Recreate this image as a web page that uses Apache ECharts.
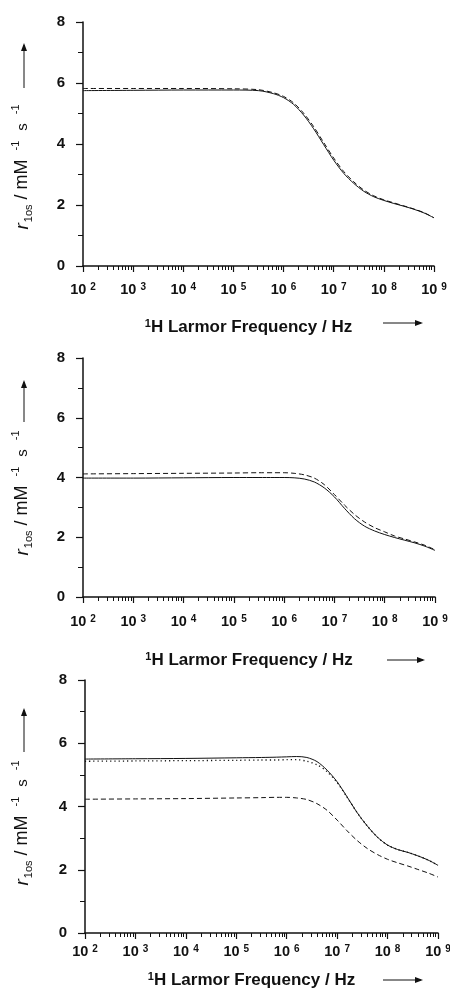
<!DOCTYPE html>
<html lang="en">
<head>
<meta charset="UTF-8">
<title>r1os vs 1H Larmor frequency</title>
<style>
  html, body { margin: 0; padding: 0; background: #fff; }
  #main { width: 450px; height: 990px; }
</style>
</head>
<body>
<div id="main"></div>
<script src="https://cdn.jsdelivr.net/npm/echarts@6/dist/echarts.min.js"></script>
<script>
// 1H Larmor frequency, Hz (same sampling for every curve)
var freq = [1e2, 1e3, 1e4, 1e5, 3.16e5, 6.31e5, 1e6, 1.58e6, 2.51e6, 3.98e6, 6.31e6,
            1e7, 1.58e7, 2.51e7, 3.98e7, 6.31e7, 1e8, 1.58e8, 2.51e8, 3.98e8, 6.31e8, 1e9];

// top panel
var topSolid  = [5.75, 5.76, 5.77, 5.77, 5.75, 5.65, 5.52, 5.30, 4.95, 4.50, 3.98,
                 3.47, 3.04, 2.71, 2.45, 2.27, 2.15, 2.05, 1.96, 1.86, 1.74, 1.58];
var topDashed = [5.82, 5.82, 5.82, 5.81, 5.78, 5.68, 5.56, 5.35, 5.01, 4.57, 4.05,
                 3.54, 3.10, 2.76, 2.49, 2.30, 2.17, 2.07, 1.97, 1.87, 1.75, 1.58];

// middle panel
var midSolid  = [3.98, 3.98, 3.99, 4.00, 4.00, 4.00, 4.00, 3.99, 3.95, 3.85, 3.65,
                 3.35, 2.97, 2.62, 2.37, 2.21, 2.09, 1.99, 1.90, 1.81, 1.70, 1.56];
var midDashed = [4.12, 4.13, 4.14, 4.15, 4.16, 4.16, 4.16, 4.14, 4.09, 3.98, 3.76,
                 3.43, 3.08, 2.76, 2.51, 2.32, 2.18, 2.04, 1.94, 1.84, 1.73, 1.58];

// bottom panel
var botSolid  = [5.50, 5.51, 5.52, 5.54, 5.55, 5.56, 5.57, 5.58, 5.55, 5.42, 5.15,
                 4.78, 4.30, 3.80, 3.38, 3.03, 2.78, 2.64, 2.55, 2.44, 2.31, 2.14];
var botDotted = [5.43, 5.44, 5.45, 5.46, 5.47, 5.47, 5.48, 5.48, 5.43, 5.32, 5.10,
                 4.76, 4.29, 3.80, 3.38, 3.03, 2.78, 2.64, 2.55, 2.44, 2.31, 2.14];
var botDashed = [4.23, 4.24, 4.25, 4.27, 4.28, 4.29, 4.29, 4.27, 4.22, 4.09, 3.88,
                 3.57, 3.23, 2.92, 2.67, 2.48, 2.33, 2.22, 2.12, 2.01, 1.90, 1.77];

// axes
var xMin = 1e2, xMax = 1e9;
var yMin = 0, yMax = 8, yStep = 2;
var minorFactors = [2, 3, 4, 5, 6, 7, 8, 9];

var FONT = '"Liberation Sans", Arial, Helvetica, sans-serif';
var INK = '#111';

var panels = [
    { left: 83, top: 22,  width: 351, height: 244, labelMargin: 16, nameGap: 52,
      yName: 167, upArrow: [88, 43], rightArrow: [383, 423, 323],
      curves: [[topSolid, 'solid'], [topDashed, 'dashed']] },
    { left: 83, top: 358, width: 352, height: 239, labelMargin: 17, nameGap: 54,
      yName: 493, upArrow: [422, 380], rightArrow: [387, 425, 660],
      curves: [[midSolid, 'solid'], [midDashed, 'dashed']] },
    { left: 85, top: 680, width: 353, height: 253, labelMargin: 11, nameGap: 38,
      yName: 823, upArrow: [752, 708], rightArrow: [383, 423, 980],
      curves: [[botSolid, 'solid'], [botDotted, 'dotted'], [botDashed, 'dashed']] }
];

var dashTypes = { solid: 'solid', dashed: [5, 3], dotted: [1.2, 3] };

var minorValues = [];
for (var e = 2; e < 9; e++) {
    minorFactors.forEach(function (k) { minorValues.push(k * Math.pow(10, e)); });
}

var myChart = echarts.init(document.getElementById('main'));

var grids = [], xAxes = [], yAxes = [], series = [], graphics = [];

panels.forEach(function (p, gi) {
    grids.push({ left: p.left, top: p.top, width: p.width, height: p.height, outerBoundsMode: 'none' });

    // main log axis: decades, labels, title
    xAxes.push({
        type: 'log', logBase: 10, gridIndex: gi, position: 'bottom',
        min: xMin, max: xMax, splitNumber: 7,
        axisLine: { show: true, onZero: false, lineStyle: { color: INK, width: 1.5 } },
        axisTick: { show: true, inside: false, length: 6, lineStyle: { color: INK, width: 1.2 } },
        splitLine: { show: false },
        axisLabel: {
            show: true, margin: p.labelMargin, showMinLabel: true, showMaxLabel: true,
            formatter: function (v) {
                return '{b|10}{s|' + Math.round(Math.log10(v)) + '}';
            },
            rich: {
                b: { fontSize: 14.5, fontWeight: 'bold', fontFamily: FONT, color: INK, lineHeight: 16 },
                s: { fontSize: 10, fontWeight: 'bold', fontFamily: FONT, color: INK, lineHeight: 11,
                     verticalAlign: 'top', padding: [0, 0, 0, 4] }
            }
        },
        name: '{s|1}{t|H Larmor Frequency / Hz}',
        nameLocation: 'middle', nameGap: p.nameGap,
        nameTextStyle: {
            padding: [0, 20, 0, 0],
            rich: {
                s: { fontSize: 11, fontWeight: 'bold', fontFamily: FONT, color: INK, lineHeight: 12,
                     verticalAlign: 'top' },
                t: { fontSize: 17, fontWeight: 'bold', fontFamily: FONT, color: INK, lineHeight: 18 }
            }
        }
    });
    // second log axis only for the 2..9 minor ticks
    xAxes.push({
        type: 'log', logBase: 10, gridIndex: gi, position: 'bottom',
        min: xMin, max: xMax,
        axisLine: { show: false },
        axisLabel: { show: false },
        splitLine: { show: false },
        axisTick: { show: true, inside: false, length: 4, customValues: minorValues,
                    lineStyle: { color: INK, width: 1 } }
    });

    yAxes.push({
        type: 'value', gridIndex: gi, min: yMin, max: yMax, interval: yStep,
        axisLine: { show: true, onZero: false, lineStyle: { color: INK, width: 1.5 } },
        axisTick: { show: true, inside: false, length: 7, lineStyle: { color: INK, width: 1.2 } },
        minorTick: { show: true, splitNumber: 2, length: 5, lineStyle: { color: INK, width: 1 } },
        splitLine: { show: false },
        minorSplitLine: { show: false },
        axisLabel: { margin: 18, fontSize: 15, fontWeight: 'bold', fontFamily: FONT, color: INK }
    });

    p.curves.forEach(function (c) {
        series.push({
            type: 'line', xAxisIndex: gi * 2, yAxisIndex: gi,
            data: freq.map(function (f, i) { return [f, c[0][i]]; }),
            symbol: 'none', smooth: 0.3, silent: true,
            lineStyle: { color: INK, width: c[1] === 'dotted' ? 1.3 : 1, type: dashTypes[c[1]] }
        });
    });

    // rotated y axis title
    graphics.push({
        type: 'text', x: 22.5, y: p.yName, rotation: Math.PI / 2,
        style: {
            text: '{r|r}{sub|1os}{t| / mM}{sup|-1}{ts|s}{sup|-1}',
            align: 'center', verticalAlign: 'middle',
            rich: {
                r: { fontSize: 19, fontStyle: 'italic', fontFamily: FONT, fill: INK, lineHeight: 24 },
                sub: { fontSize: 11, fontFamily: FONT, fill: INK, lineHeight: 12, verticalAlign: 'bottom',
                       padding: [0, 0, 0, 1] },
                t: { fontSize: 18, fontFamily: FONT, fill: INK, lineHeight: 24 },
                sup: { fontSize: 11, fontFamily: FONT, fill: INK, lineHeight: 12, verticalAlign: 'top',
                       padding: [0, 0, 0, 9] },
                ts: { fontSize: 15, fontFamily: FONT, fill: INK, lineHeight: 24, padding: [0, 0, 0, 10] }
            }
        }
    });

    // arrows next to the axis titles
    var ua = p.upArrow;
    graphics.push({ type: 'line', shape: { x1: 24, y1: ua[0], x2: 24, y2: ua[1] + 2 },
                    style: { stroke: INK, lineWidth: 1 } });
    graphics.push({ type: 'polygon', shape: { points: [[24, ua[1]], [21, ua[1] + 8], [27, ua[1] + 8]] },
                    style: { fill: INK } });
    var ra = p.rightArrow;
    graphics.push({ type: 'line', shape: { x1: ra[0], y1: ra[2], x2: ra[1] - 2, y2: ra[2] },
                    style: { stroke: INK, lineWidth: 1 } });
    graphics.push({ type: 'polygon', shape: { points: [[ra[1], ra[2]], [ra[1] - 8, ra[2] - 3], [ra[1] - 8, ra[2] + 3]] },
                    style: { fill: INK } });
});

myChart.setOption({
    animation: false,
    backgroundColor: '#fff',
    grid: grids,
    xAxis: xAxes,
    yAxis: yAxes,
    series: series,
    graphic: graphics
});
</script>
</body>
</html>
